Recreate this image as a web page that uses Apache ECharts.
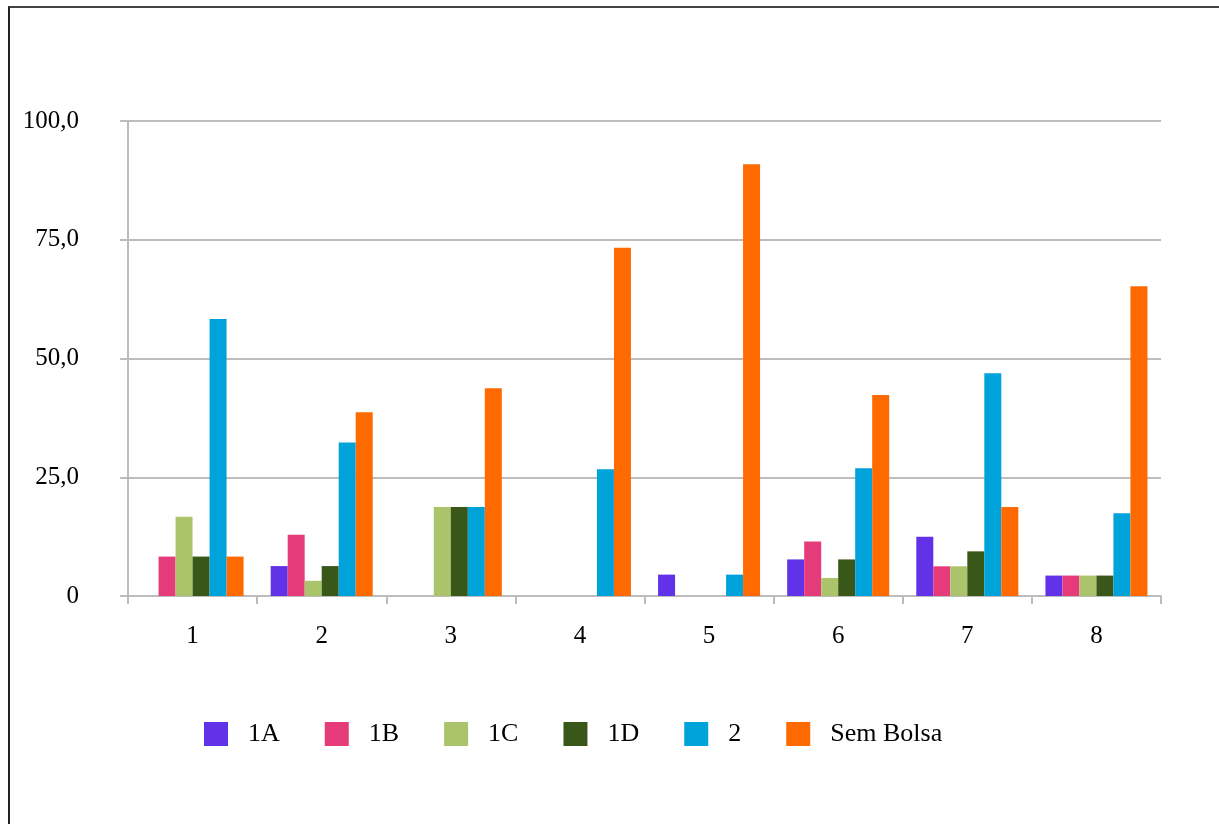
<!DOCTYPE html>
<html>
<head>
<meta charset="utf-8">
<script src="https://cdn.jsdelivr.net/npm/echarts@6/dist/echarts.min.js"></script>
<style>
  html, body { margin: 0; padding: 0; background: #fff; }
  #frame { position: absolute; left: 8px; top: 6px; width: 1211px; height: 818px;
           border-left: 2px solid #222; border-top: 2px solid #444; box-sizing: border-box; }
  #chart { position: absolute; left: 0; top: 0; width: 1219px; height: 824px; }
</style>
</head>
<body>
<div id="frame"></div>
<div id="chart"></div>
<script>
// categorias e valores (%)
const categories = ['1', '2', '3', '4', '5', '6', '7', '8'];
const serieNames = ['1A', '1B', '1C', '1D', '2', 'Sem Bolsa'];
const s1A = [0, 6.3, 0, 0, 4.5, 7.7, 12.5, 4.3];
const s1B = [8.3, 12.9, 0, 0, 0, 11.5, 6.25, 4.3];
const s1C = [16.7, 3.2, 18.75, 0, 0, 3.8, 6.25, 4.3];
const s1D = [8.3, 6.3, 18.75, 0, 0, 7.7, 9.4, 4.3];
const s2 = [58.3, 32.3, 18.75, 26.7, 4.5, 26.9, 46.9, 17.4];
const sSemBolsa = [8.3, 38.7, 43.75, 73.3, 90.9, 42.3, 18.75, 65.2];
const yTicks = [0, 25, 50, 75, 100];

const colors = ['#6232E8', '#E63B7A', '#ABC46B', '#3A571A', '#00A3D9', '#FF6A00'];
const allData = [s1A, s1B, s1C, s1D, s2, sSemBolsa];

const font = 'Liberation Serif';
const gridColor = '#bdbdbd';

let myChart = echarts.init(document.getElementById('chart'));

let option = {
    animation: false,
    color: colors,
    grid: {
        left: 128,
        right: 58,
        top: 121,
        bottom: 228
    },
    legend: {
        data: serieNames,
        left: 199,
        top: 716,
        itemWidth: 24,
        itemHeight: 24,
        itemGap: 45,
        icon: 'rect',
        textStyle: {
            fontFamily: font,
            fontSize: 26,
            color: '#000',
            padding: [0, 0, 0, 15]
        }
    },
    xAxis: {
        type: 'category',
        data: categories,
        axisLine: { lineStyle: { color: gridColor, width: 2 } },
        axisTick: { show: true, length: 8, lineStyle: { color: gridColor, width: 2 } },
        axisLabel: { color: '#000', fontFamily: font, fontSize: 25, margin: 28 }
    },
    yAxis: {
        type: 'value',
        min: yTicks[0],
        max: yTicks[yTicks.length - 1],
        interval: 25,
        axisLine: { show: true, lineStyle: { color: gridColor, width: 2 } },
        axisTick: { show: true, length: 8, lineStyle: { color: gridColor, width: 2 } },
        splitLine: { lineStyle: { color: gridColor, width: 2 } },
        axisLabel: {
            color: '#000',
            fontFamily: font,
            fontSize: 25,
            margin: 49,
            formatter: function (v) {
                return v === 0 ? '0' : v.toFixed(1).replace('.', ',');
            }
        }
    },
    series: serieNames.map(function (name, i) {
        return {
            name: name,
            type: 'bar',
            barGap: '0%',
            barCategoryGap: '21%',
            data: allData[i]
        };
    })
};

myChart.setOption(option);
</script>
</body>
</html>
